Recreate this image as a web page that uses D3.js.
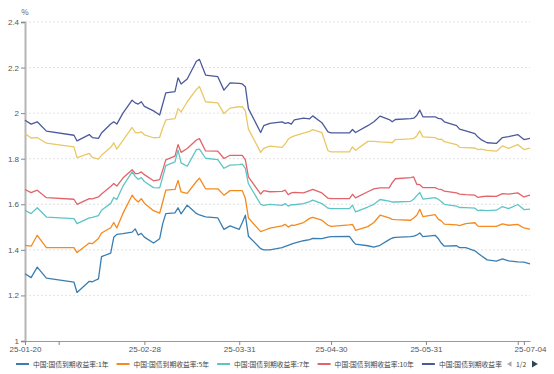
<!DOCTYPE html>
<html><head><meta charset="utf-8">
<script src="https://cdn.jsdelivr.net/npm/d3@7"></script>
<style>
html,body{margin:0;padding:0;background:#fff;}
svg{display:block;font-family:"Microsoft YaHei","Noto Sans CJK SC","Noto Sans",sans-serif;}
</style></head>
<body><svg id="c" width="554" height="374"></svg>
<script>
const dates = ["2025-01-20","2025-01-22","2025-01-24","2025-01-27",
"2025-02-05","2025-02-06","2025-02-10","2025-02-11","2025-02-13","2025-02-14","2025-02-17","2025-02-18","2025-02-19","2025-02-21","2025-02-24","2025-02-25","2025-02-26","2025-02-27","2025-02-28",
"2025-03-03","2025-03-05","2025-03-06","2025-03-07","2025-03-10","2025-03-11","2025-03-12","2025-03-14","2025-03-17","2025-03-18","2025-03-20","2025-03-24","2025-03-26","2025-03-28","2025-03-31",
"2025-04-01","2025-04-02","2025-04-03","2025-04-07","2025-04-08","2025-04-10","2025-04-14","2025-04-15","2025-04-16","2025-04-17","2025-04-18","2025-04-21","2025-04-23","2025-04-24","2025-04-27","2025-04-29","2025-04-30",
"2025-05-06","2025-05-07","2025-05-08","2025-05-12","2025-05-14","2025-05-16","2025-05-19","2025-05-20","2025-05-21","2025-05-26","2025-05-27","2025-05-28","2025-05-29","2025-05-30",
"2025-06-03","2025-06-04","2025-06-05","2025-06-06","2025-06-10","2025-06-11","2025-06-13","2025-06-16","2025-06-17","2025-06-18","2025-06-20","2025-06-23","2025-06-25","2025-06-27","2025-06-30",
"2025-07-02","2025-07-04"];

const y1 = [1.295,1.278,1.324,1.276,
1.258,1.213,1.262,1.260,1.273,1.370,1.386,1.455,1.468,1.471,1.478,1.492,1.465,1.472,1.456,
1.430,1.449,1.515,1.559,1.562,1.585,1.558,1.596,1.560,1.553,1.545,1.540,1.490,1.505,1.490,
1.520,1.552,1.460,1.405,1.400,1.400,1.410,1.415,1.420,1.425,1.430,1.440,1.445,1.450,1.449,1.456,1.458,
1.459,1.440,1.425,1.418,1.412,1.420,1.445,1.452,1.455,1.458,1.460,1.465,1.474,1.458,
1.464,1.450,1.430,1.416,1.418,1.410,1.410,1.396,1.385,1.375,1.356,1.351,1.360,1.352,1.347,
1.346,1.339];

const y5 = [1.420,1.416,1.464,1.410,
1.410,1.388,1.430,1.427,1.450,1.474,1.497,1.520,1.496,1.560,1.640,1.622,1.610,1.625,1.605,
1.572,1.561,1.610,1.662,1.665,1.705,1.654,1.648,1.700,1.715,1.668,1.668,1.640,1.660,1.660,
1.660,1.625,1.540,1.480,1.485,1.495,1.505,1.512,1.500,1.508,1.507,1.520,1.538,1.543,1.530,1.508,1.503,
1.510,1.512,1.486,1.502,1.520,1.552,1.540,1.534,1.533,1.530,1.540,1.552,1.578,1.546,
1.555,1.535,1.527,1.513,1.510,1.506,1.515,1.519,1.504,1.503,1.503,1.503,1.514,1.508,1.512,
1.496,1.491];

const y7 = [1.574,1.559,1.585,1.544,
1.537,1.515,1.540,1.543,1.550,1.574,1.604,1.630,1.621,1.680,1.742,1.722,1.710,1.717,1.700,
1.673,1.672,1.720,1.770,1.786,1.838,1.782,1.767,1.840,1.842,1.802,1.796,1.758,1.772,1.774,
1.776,1.758,1.690,1.600,1.595,1.600,1.595,1.603,1.592,1.598,1.598,1.603,1.612,1.618,1.603,1.583,1.581,
1.581,1.596,1.567,1.588,1.600,1.621,1.614,1.610,1.610,1.613,1.622,1.638,1.652,1.623,
1.629,1.622,1.612,1.600,1.592,1.586,1.585,1.583,1.572,1.574,1.572,1.574,1.590,1.581,1.599,
1.577,1.579];

const y10 = [1.665,1.651,1.662,1.629,
1.622,1.600,1.625,1.624,1.632,1.645,1.678,1.691,1.680,1.715,1.752,1.735,1.735,1.742,1.730,
1.703,1.708,1.750,1.795,1.811,1.862,1.828,1.845,1.882,1.888,1.834,1.833,1.801,1.815,1.815,
1.815,1.795,1.720,1.645,1.660,1.655,1.657,1.662,1.642,1.650,1.652,1.650,1.660,1.665,1.650,1.627,1.625,
1.625,1.644,1.628,1.655,1.668,1.672,1.672,1.695,1.712,1.717,1.720,1.688,1.686,1.673,
1.673,1.667,1.665,1.658,1.650,1.645,1.642,1.640,1.630,1.633,1.636,1.635,1.647,1.645,1.650,
1.632,1.640];

const yNavy = [1.969,1.952,1.962,1.921,
1.903,1.878,1.906,1.893,1.889,1.913,1.952,1.962,1.952,2.000,2.057,2.045,2.040,2.050,2.030,
2.010,1.992,2.040,2.089,2.094,2.155,2.128,2.150,2.228,2.236,2.167,2.160,2.101,2.133,2.131,
2.128,2.116,2.020,1.915,1.945,1.955,1.962,1.955,1.958,1.952,1.970,1.978,1.975,1.988,1.958,1.918,1.913,
1.913,1.928,1.915,1.945,1.962,1.987,1.972,1.962,1.972,1.976,1.978,1.990,2.013,1.984,
1.984,1.977,1.975,1.962,1.945,1.930,1.922,1.910,1.895,1.884,1.870,1.867,1.893,1.897,1.906,
1.884,1.889];

const yYellow = [1.911,1.891,1.893,1.868,
1.852,1.805,1.823,1.806,1.798,1.815,1.850,1.870,1.842,1.880,1.937,1.915,1.913,1.918,1.905,
1.892,1.894,1.935,1.970,1.976,2.020,2.005,2.050,2.104,2.117,2.050,2.045,1.998,2.022,2.028,
2.028,2.010,1.930,1.828,1.845,1.855,1.850,1.865,1.885,1.895,1.900,1.912,1.920,1.928,1.915,1.835,1.830,
1.830,1.852,1.837,1.876,1.876,1.874,1.872,1.870,1.884,1.887,1.889,1.900,1.922,1.896,
1.893,1.885,1.886,1.875,1.862,1.850,1.849,1.847,1.840,1.842,1.837,1.833,1.856,1.845,1.862,
1.840,1.847];

const seriesNames = ["中国:国债到期收益率:1年","中国:国债到期收益率:5年","中国:国债到期收益率:7年","中国:国债到期收益率:10年","中国:国债到期收益率"];
const seriesColors = ["#3a7eb1","#f58a1f","#5fc4c6","#e2646a","#4c5a9c","#e9c865"];
const yTicks = [1,1.2,1.4,1.6,1.8,2,2.2,2.4];
const xTickLabels = ["2025-01-20","2025-02-28","2025-03-31","2025-04-30","2025-05-31","2025-07-04"];
const xMinorTicks = ["2025-01-31","2025-06-30","2025-07-02"];

const parse = d3.timeParse("%Y-%m-%d");
const svg = d3.select("#c");
const x = d3.scaleTime().domain([parse("2025-01-20"), parse("2025-07-04")]).range([25, 530]);
const y = d3.scaleLinear().domain([1, 2.4]).range([341, 22]);

// grid
svg.append("g").selectAll("line").data(yTicks.filter(d => d > 1)).join("line")
  .attr("x1", 25).attr("x2", 530).attr("y1", d => y(d)).attr("y2", d => y(d))
  .attr("stroke", "#e3e3e3").attr("stroke-dasharray", "2,2").attr("stroke-width", 1);

// y axis
const ya = svg.append("g").attr("transform", "translate(25,0)")
  .call(d3.axisLeft(y).tickValues(yTicks).tickFormat(d3.format("~g")).tickSize(4).tickPadding(2));
ya.select(".domain").attr("stroke", "#b5b5b5").attr("stroke-width", 2);
ya.selectAll(".tick line").attr("stroke", "#888");
ya.selectAll("text").attr("fill", "#555").style("font-size", "8px");

// x axis
const xa = svg.append("g").attr("transform", "translate(0,341)")
  .call(d3.axisBottom(x).tickValues(xTickLabels.map(parse)).tickFormat(d3.timeFormat("%y-%m-%d")).tickSize(4).tickPadding(1).tickSizeOuter(0));
xa.select(".domain").attr("stroke", "#999").attr("stroke-width", 1);
xa.selectAll(".tick line").attr("stroke", "#888");
xa.selectAll("text").attr("fill", "#555").style("font-size", "8px");
const xm = svg.append("g").attr("transform", "translate(0,341)")
  .call(d3.axisBottom(x).tickValues(xMinorTicks.map(parse)).tickFormat("").tickSize(4).tickSizeOuter(0));
xm.select(".domain").remove();
xm.selectAll(".tick line").attr("stroke", "#888");
xa.selectAll(".tick").filter(d => +d === +parse("2025-07-04")).select("line").remove();

svg.append("text").attr("x", 25).attr("y", 15).attr("text-anchor", "middle")
  .attr("fill", "#666").style("font-size", "8px").text("%");

// lines
const allSeries = [y1, y5, y7, y10, yNavy, yYellow];
const line = d3.line().x((d, i) => x(parse(dates[i]))).y(d => y(d));
const order = [5, 4, 3, 2, 1, 0];
svg.append("g").selectAll("path").data(order).join("path")
  .attr("d", k => line(allSeries[k]))
  .attr("fill", "none").attr("stroke", k => seriesColors[k]).attr("stroke-width", 1.3)
  .attr("stroke-linejoin", "round");

// legend
const lg = svg.append("g").attr("transform", "translate(0,364)");
let lx = 16;
seriesNames.forEach((n, i) => {
  lg.append("line").attr("x1", lx).attr("x2", lx + 13).attr("y1", 0).attr("y2", 0)
    .attr("stroke", seriesColors[i]).attr("stroke-width", 2);
  const t = lg.append("text").attr("x", lx + 17).attr("y", 2.5).attr("fill", "#444")
    .style("font-size", "6.8px").text(n);
  const w = t.node().getComputedTextLength();
  lx += 17 + w + 8;
});
// pagination
lg.append("path").attr("d", d3.symbol().type(d3.symbolTriangle).size(12)())
  .attr("transform", `translate(${lx},0) rotate(-90)`).attr("fill", "#aaa");
lg.append("text").attr("x", lx + 6).attr("y", 2.5).attr("fill", "#444").style("font-size", "6.8px").text("1/2");
lg.append("path").attr("d", d3.symbol().type(d3.symbolTriangle).size(20)())
  .attr("transform", `translate(${lx+24},0) rotate(90)`).attr("fill", "#2f4554");
</script></body></html>
